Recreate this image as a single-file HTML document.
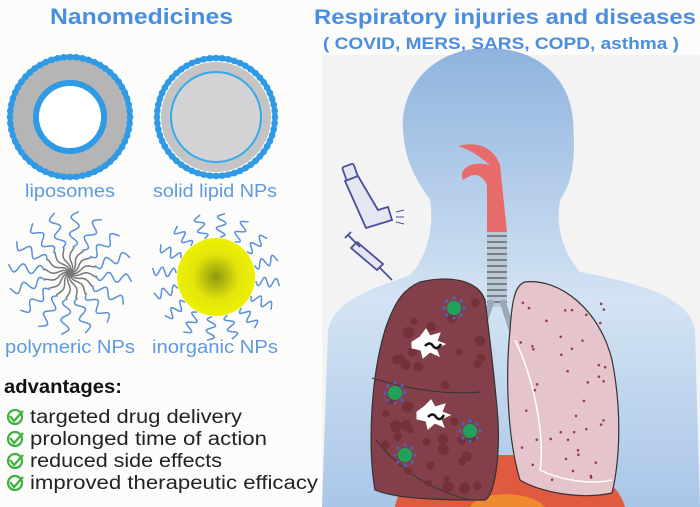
<!DOCTYPE html>
<html><head><meta charset="utf-8"><style>
html,body{margin:0;padding:0;background:#fcfcfa;}
svg{display:block;font-family:"Liberation Sans",sans-serif;}
</style></head><body>
<svg id="s" width="700" height="507" viewBox="0 0 700 507" xmlns="http://www.w3.org/2000/svg">
<defs>
<linearGradient id="body" x1="0" y1="0" x2="0" y2="1">
<stop offset="0" stop-color="#8fb3de"/><stop offset="0.55" stop-color="#d3e3f3"/><stop offset="1" stop-color="#a9c6e8"/>
</linearGradient>
<radialGradient id="yel"><stop offset="0" stop-color="#8f9a10"/><stop offset="0.6" stop-color="#e3e60a"/><stop offset="1" stop-color="#eef000"/></radialGradient>
</defs>
<rect x="322" y="55" width="378" height="452" fill="#f3f3f3"/>
<path d="M488 48 C430 48 400 90 403 130 C405 165 420 185 430 200 C435 230 425 260 410 275 C370 290 335 300 328 330 L322 507 L700 507 L695 330 C690 300 650 285 580 272 C565 255 555 230 560 200 C575 180 575 150 573 120 C570 80 540 48 488 48 Z" fill="url(#body)"/>
<g lengthAdjust="spacingAndGlyphs">
<text x="50" y="24" font-size="22" font-weight="bold" fill="#4a8ee0" textLength="183" lengthAdjust="spacingAndGlyphs">Nanomedicines</text>
<text x="314" y="24" font-size="21" font-weight="bold" fill="#4a8ee0" textLength="382" lengthAdjust="spacingAndGlyphs">Respiratory injuries and diseases</text>
<text x="323" y="49" font-size="17" font-weight="bold" fill="#4a8ee0" textLength="356" lengthAdjust="spacingAndGlyphs">( COVID, MERS, SARS, COPD, asthma )</text>
</g>
<circle cx="70" cy="117" r="48" fill="none" stroke="#b5b5b5" stroke-width="26"/>
<circle cx="70" cy="117" r="60" fill="none" stroke="#2f9ae6" stroke-width="5"/>
<circle cx="70" cy="117" r="34" fill="none" stroke="#2f9ae6" stroke-width="6"/>
<circle cx="70" cy="117" r="31" fill="#fff"/>
<circle cx="216" cy="117" r="55" fill="#c4c4c4"/>
<circle cx="216" cy="117" r="59" fill="none" stroke="#2f9ae6" stroke-width="5"/>
<circle cx="216" cy="117" r="45" fill="#d3d3d5" stroke="#33aaee" stroke-width="2"/>
<g font-size="18" fill="#5e9ae0">
<text x="25" y="197" textLength="90" lengthAdjust="spacingAndGlyphs">liposomes</text>
<text x="153" y="197" textLength="124" lengthAdjust="spacingAndGlyphs">solid lipid NPs</text>
<text x="5" y="353" textLength="130" lengthAdjust="spacingAndGlyphs">polymeric NPs</text>
<text x="152" y="353" textLength="126" lengthAdjust="spacingAndGlyphs">inorganic NPs</text>
</g>
<g id="poly"></g>
<circle cx="216" cy="277" r="39" fill="url(#yel)"/>
<text x="4" y="393" font-size="19" font-weight="bold" fill="#111" textLength="118" lengthAdjust="spacingAndGlyphs">advantages:</text>
<g font-size="19" fill="#222">
<text x="30" y="423" textLength="212" lengthAdjust="spacingAndGlyphs">targeted drug delivery</text>
<text x="30" y="445" textLength="237" lengthAdjust="spacingAndGlyphs">prolonged time of action</text>
<text x="30" y="467" textLength="192" lengthAdjust="spacingAndGlyphs">reduced side effects</text>
<text x="30" y="489" textLength="288" lengthAdjust="spacingAndGlyphs">improved therapeutic efficacy</text>
</g>
<g id="checks" fill="none" stroke="#3cb13c" stroke-width="2.2"></g>
<path d="M395 507 C400 470 460 455 505 455 C560 455 615 470 625 507 Z" fill="#e05a40"/>
<path d="M470 507 C480 490 530 490 545 507 Z" fill="#f08a30"/>
<path d="M487 232 L487 185 C480 170 470 175 463 180 C458 170 470 160 490 165 C478 155 470 150 458 146 C480 140 495 150 500 165 L507 232 Z" fill="#e86b6b"/>
<rect x="487" y="232" width="20" height="75" fill="#b9c9d6"/>
<g id="rings" stroke="#555" stroke-width="1.2"></g>
<path d="M492 300 L478 340 M502 300 L515 340" stroke="#9aaab8" stroke-width="6"/>
<path d="M420 282 C450 275 478 280 485 300 C490 340 495 380 498 420 C500 455 495 495 485 500 C450 500 400 500 375 490 C368 450 370 380 385 330 C395 300 405 288 420 282 Z" fill="#84404a" stroke="#333" stroke-width="1.2"/>
<path d="M372 378 C410 390 450 395 480 392 M376 440 C400 470 430 490 470 500" stroke="#333" stroke-width="1" fill="none"/>
<path d="M525 282 C560 278 600 310 612 360 C622 410 620 460 612 493 C580 500 540 492 520 480 C508 440 505 380 510 330 C512 300 515 285 525 282 Z" fill="#e6c4cc" stroke="#333" stroke-width="1.2"/>
<path d="M515 340 C535 380 545 440 540 470 C560 480 590 485 612 480" stroke="#fff" stroke-width="1.5" fill="none"/>
<g id="spots"></g>
<g fill="#fff" stroke="#fff"><path d="M412 342 l8 -5 l6 -8 l4 7 l10 -3 l-3 8 l8 3 l-9 4 l3 8 l-9 -4 l-7 6 l-2 -8 l-9 -2 z"/><path d="M417 412 l8 -6 l6 -6 l4 7 l10 -3 l-3 8 l8 3 l-9 4 l3 8 l-9 -4 l-7 6 l-2 -8 l-9 -2 z"/></g>
<path d="M425 346 q5 -5 8 0 q4 5 8 -2 M428 417 q5 -5 8 0 q4 5 8 -2" stroke="#111" stroke-width="2.5" fill="none"/>
<g id="virus"></g>
<g fill="#e4e6f2" stroke="#4a4f9a" stroke-width="1.8">
<rect x="344" y="165" width="12" height="14" rx="2" transform="rotate(-20 350 172)"/>
<path d="M345 181 L358 176 L378 210 L388 207 L392 220 L366 228 Z"/>
</g>
<path d="M396 212 l8 -2 M396 217 l8 0 M396 222 l8 2" stroke="#4a4f9a" stroke-width="1"/>
<g stroke="#4a4f9a" stroke-width="1.8" fill="#e4e6f2">
<path d="M345 238 l6 -6 M348 235 l12 12 M355 244 l-4 4 l26 22 l6 -6 l-26 -22 Z"/>
<path d="M380 268 l12 12" fill="none"/>
</g>
</svg>
<script>
var ns="http://www.w3.org/2000/svg",s=document.getElementById('s');
function el(t,a,p){var e=document.createElementNS(ns,t);for(var k in a)e.setAttribute(k,a[k]);(p||s).appendChild(e);return e;}
function beads(cx,cy,r,n,rad){for(var i=0;i<n;i++){var a=i/n*6.283;el('circle',{cx:cx+r*Math.cos(a),cy:cy+r*Math.sin(a),r:rad,fill:'#2f9ae6'});}}
beads(70,117,60,60,3.3);beads(70,117,34,36,3);beads(216,117,59,60,3.3);
var poly=document.getElementById('poly');
function chains(cx,cy,r0,r1,n,grey){for(var i=0;i<n;i++){var a=i/n*6.283+0.1,d='',c=Math.cos(a),sn=Math.sin(a);
for(var t=0;t<=24;t++){var r=r0+(r1-r0)*t/24,w=4.5*Math.sin(t*0.55);var x=cx+r*c-w*sn,y=cy+r*sn+w*c;d+=(t?'L':'M')+x.toFixed(1)+' '+y.toFixed(1);}
el('path',{d:d,fill:'none',stroke:'#5a90d8','stroke-width':1.5},poly);
if(grey){var d2='';for(var t=0;t<=8;t++){var r=r0*t/8,w=2*Math.sin(t*0.9);d2+=(t?'L':'M')+(cx+r*c-w*sn).toFixed(1)+' '+(cy+r*sn+w*c).toFixed(1);}el('path',{d:d2,fill:'none',stroke:'#777','stroke-width':1.5},poly);}}}
chains(70,273,26,62,16,true);chains(216,277,40,64,16,false);
var ch=document.getElementById('checks');[417,439,461,483].forEach(function(y){el('circle',{cx:15,cy:y,r:7},ch);el('path',{d:'M10 '+(y-1)+' l4 5 l9 -10'},ch);});
var rg=document.getElementById('rings');for(var y=236;y<305;y+=6)el('line',{x1:487,y1:y,x2:507,y2:y},rg);
var sp=document.getElementById('spots');for(var i=0;i<45;i++){el('circle',{cx:520+Math.random()*90,cy:300+Math.random()*180,r:1.3,fill:'#9a3a5a'},sp);}
for(var i=0;i<40;i++){el('circle',{cx:385+Math.random()*100,cy:300+Math.random()*190,r:3+Math.random()*3,fill:'#743238'},sp);}
var vg=document.getElementById('virus');[[454,308],[395,393],[470,431],[405,455]].forEach(function(p){for(var i=0;i<8;i++){var a=i/8*6.283;el('circle',{cx:p[0]+10*Math.cos(a),cy:p[1]+10*Math.sin(a),r:1.5,fill:'#3d6ad0'},vg);}el('circle',{cx:p[0],cy:p[1],r:7,fill:'#1fa35a'},vg);});
</script>
</body></html>
